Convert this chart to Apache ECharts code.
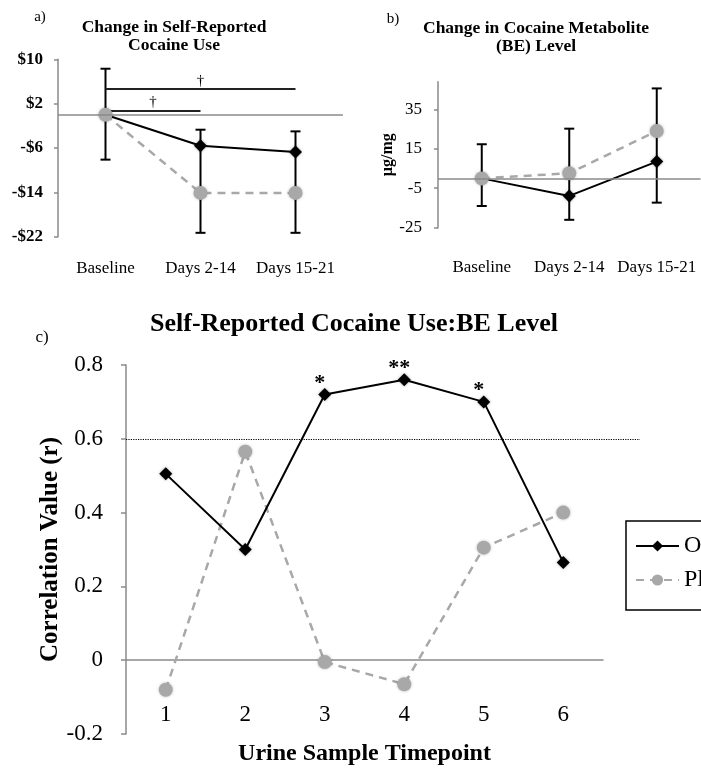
<!DOCTYPE html>
<html>
<head>
<meta charset="utf-8">
<script src="https://cdn.jsdelivr.net/npm/echarts@6/dist/echarts.min.js"></script>
<style>
  html, body { margin: 0; padding: 0; background: #fff; }
  #chart { width: 701px; height: 771px; }
</style>
</head>
<body>
<div id="chart"></div>
<script>
// ---- a) change in self-reported cocaine use ($) ----
const periods = ['Baseline', 'Days 2-14', 'Days 15-21'];
const useActive = [0, -5.6, -6.7];
const usePlacebo = [0, -14.1, -14.1];
const useErrTop = [8.3, -2.7, -3.0];
const useErrBottom = [-8.1, -21.3, -21.3];
const useTicks = [-22, -14, -6, 2, 10];
// significance brackets: [from, to, level]
const useBrackets = [['Baseline', 'Days 15-21', 4.6], ['Baseline', 'Days 2-14', 0.7]];

// ---- b) change in cocaine metabolite (BE) level, µg/mg ----
const beActive = [0, -8.9, 8.5];
const bePlacebo = [0, 2.6, 24.0];
const beErrTop = [17.3, 25.2, 45.6];
const beErrBottom = [-14.0, -21.0, -12.3];
const beTicks = [-25, -5, 15, 35];

// ---- c) correlation of self-report with BE level ----
const timepoints = ['1', '2', '3', '4', '5', '6'];
const corrActive = [0.505, 0.30, 0.72, 0.76, 0.70, 0.265];
const corrPlacebo = [-0.08, 0.565, -0.005, -0.065, 0.305, 0.40];
const corrSig = ['', '', '*', '**', '*', ''];
const corrThreshold = 0.6;

const groupNames = ['Oxytocin', 'Placebo'];

const SERIF = '"Liberation Serif", "DejaVu Serif", serif';
const AXIS_GREY = '#8a8a8a';
const MARK_GREY = '#a8a8a8';

function errorBars(gi, tops, bottoms) {
  return {
    type: 'custom', xAxisIndex: gi, yAxisIndex: gi, z: 1, silent: true,
    data: tops.map((t, i) => [i, bottoms[i], t]),
    encode: { x: 0, y: [1, 2] },
    renderItem(params, api) {
      const i = api.value(0);
      const lo = api.coord([i, api.value(1)]);
      const hi = api.coord([i, api.value(2)]);
      const w = 5;
      const style = { stroke: '#000', lineWidth: 2 };
      return {
        type: 'group', children: [
          { type: 'line', shape: { x1: lo[0], y1: lo[1], x2: hi[0], y2: hi[1] }, style },
          { type: 'line', shape: { x1: lo[0] - w, y1: lo[1], x2: lo[0] + w, y2: lo[1] }, style },
          { type: 'line', shape: { x1: hi[0] - w, y1: hi[1], x2: hi[0] + w, y2: hi[1] }, style }
        ]
      };
    }
  };
}

const zeroLine = {
  silent: true, symbol: 'none', label: { show: false },
  lineStyle: { color: AXIS_GREY, width: 1.5, type: 'solid' },
  data: [{ yAxis: 0 }]
};

function activeSeries(gi, data, extra) {
  return Object.assign({
    name: groupNames[0], type: 'line', xAxisIndex: gi, yAxisIndex: gi, z: 3,
    data, symbol: 'diamond', symbolSize: 13,
    lineStyle: { color: '#000', width: 2 },
    itemStyle: { color: '#000', shadowBlur: 3, shadowColor: 'rgba(0,0,0,0.35)' }
  }, extra || {});
}
function placeboSeries(gi, data, extra) {
  return Object.assign({
    name: groupNames[1], type: 'line', xAxisIndex: gi, yAxisIndex: gi, z: 4,
    data, symbol: 'circle', symbolSize: 14,
    lineStyle: { color: MARK_GREY, width: 2.5, type: [8, 6] },
    itemStyle: { color: MARK_GREY, shadowBlur: 3, shadowColor: 'rgba(0,0,0,0.25)' }
  }, extra || {});
}

const smallCat = (margin) => ({
  type: 'category', boundaryGap: true,
  axisLine: { show: false }, axisTick: { show: false },
  axisLabel: { margin, interval: 0, fontFamily: SERIF, fontSize: 17, color: '#000' }
});

// panel c: the horizontal axis sits on r = 0, which is 0.2 of the 1.0 range above the grid bottom
const gridC = { left: 126, top: 365, width: 477, height: 369 };
const cZeroOffset = -gridC.height * 0.2;

const option = {
  animation: false,
  backgroundColor: '#fff',
  grid: [
    { left: 58, top: 59.3, width: 285, height: 177.4, outerBoundsMode: 'none', containLabel: false },
    { left: 438, top: 81.7, width: 262.5, height: 146, outerBoundsMode: 'none', containLabel: false },
    Object.assign({ outerBoundsMode: 'none', containLabel: false }, gridC)
  ],
  xAxis: [
    Object.assign(smallCat(23), { gridIndex: 0, data: periods }),
    Object.assign(smallCat(31), { gridIndex: 1, data: periods }),
    {
      gridIndex: 2, type: 'category', data: timepoints, boundaryGap: true,
      position: 'bottom', offset: cZeroOffset,
      axisLine: { onZero: false, lineStyle: { color: AXIS_GREY, width: 1.5 } },
      axisTick: { length: 5, lineStyle: { color: AXIS_GREY, width: 1.5 } },
      axisLabel: { margin: 43, interval: 0, fontFamily: SERIF, fontSize: 23, color: '#000' },
      name: 'Urine Sample Timepoint', nameLocation: 'middle', nameGap: 82,
      nameTextStyle: { fontFamily: SERIF, fontSize: 24, fontWeight: 'bold', color: '#000' }
    }
  ],
  yAxis: [
    {
      gridIndex: 0, type: 'value', min: -22, max: 10,
      axisLine: { show: true, onZero: false, lineStyle: { color: AXIS_GREY, width: 1.5 } },
      axisTick: { show: true, length: 4, customValues: useTicks, lineStyle: { color: AXIS_GREY, width: 1.5 } },
      axisLabel: {
        customValues: useTicks, margin: 15, fontFamily: SERIF, fontSize: 17, fontWeight: 'bold', color: '#000',
        formatter: v => (v < 0 ? '-$' + (-v) : '$' + v)
      },
      splitLine: { show: false }
    },
    {
      gridIndex: 1, type: 'value', min: -25, max: 49,
      axisLine: { show: true, onZero: false, lineStyle: { color: AXIS_GREY, width: 1.5 } },
      axisTick: { show: true, length: 4, customValues: beTicks, lineStyle: { color: AXIS_GREY, width: 1.5 } },
      axisLabel: { customValues: beTicks, margin: 16, fontFamily: SERIF, fontSize: 17, color: '#000' },
      splitLine: { show: false },
      name: 'µg/mg', nameLocation: 'middle', nameGap: 42, nameRotate: 90,
      nameTextStyle: { fontFamily: SERIF, fontSize: 16, fontWeight: 'bold', color: '#000' }
    },
    {
      gridIndex: 2, type: 'value', min: -0.2, max: 0.8, interval: 0.2,
      axisLine: { show: true, onZero: false, lineStyle: { color: AXIS_GREY, width: 1.5 } },
      axisTick: { show: true, length: 5, lineStyle: { color: AXIS_GREY, width: 1.5 } },
      axisLabel: { margin: 23, fontFamily: SERIF, fontSize: 23, color: '#000' },
      splitLine: { show: false },
      name: 'Correlation Value (r)', nameLocation: 'middle', nameGap: 63, nameRotate: 90,
      nameMoveOverlap: false,
      nameTextStyle: { fontFamily: SERIF, fontSize: 25, fontWeight: 'bold', color: '#000' }
    }
  ],
  legend: {
    data: groupNames, orient: 'vertical', left: 626, top: 521,
    padding: [13, 30, 18, 9], itemGap: 10, itemWidth: 43, itemHeight: 14,
    borderColor: '#000', borderWidth: 1.5,
    textStyle: { fontFamily: SERIF, fontSize: 24, color: '#000' }
  },
  graphic: [
    { type: 'text', x: 40, y: 17, style: { text: 'a)', font: '15px ' + SERIF, fill: '#000', textAlign: 'center', textVerticalAlign: 'middle' } },
    { type: 'text', x: 174, y: 36, style: { text: 'Change in Self-Reported\nCocaine Use', font: 'bold 17.5px ' + SERIF, lineHeight: 18, fill: '#000', textAlign: 'center', textVerticalAlign: 'middle' } },
    { type: 'text', x: 393, y: 19, style: { text: 'b)', font: '15px ' + SERIF, fill: '#000', textAlign: 'center', textVerticalAlign: 'middle' } },
    { type: 'text', x: 536, y: 37.5, style: { text: 'Change in Cocaine Metabolite\n(BE) Level', font: 'bold 17.5px ' + SERIF, lineHeight: 18, fill: '#000', textAlign: 'center', textVerticalAlign: 'middle' } },
    { type: 'text', x: 42, y: 338, style: { text: 'c)', font: '17px ' + SERIF, fill: '#000', textAlign: 'center', textVerticalAlign: 'middle' } },
    { type: 'text', x: 354, y: 324, style: { text: 'Self-Reported Cocaine Use:BE Level', font: 'bold 26px ' + SERIF, fill: '#000', textAlign: 'center', textVerticalAlign: 'middle' } }
  ],
  series: [
    // a
    errorBars(0, useErrTop, useErrBottom),
    activeSeries(0, useActive, {
      markLine: {
        silent: true, symbol: 'none', z: 2,
        lineStyle: { color: '#222', width: 2, type: 'solid' },
        label: { show: true, position: 'middle', formatter: '†', fontFamily: SERIF, fontSize: 15, color: '#000', distance: 1 },
        data: useBrackets.map(b => [{ coord: [b[0], b[2]] }, { coord: [b[1], b[2]] }])
      }
    }),
    placeboSeries(0, usePlacebo, { markLine: zeroLine }),
    // b
    errorBars(1, beErrTop, beErrBottom),
    activeSeries(1, beActive),
    placeboSeries(1, bePlacebo, { markLine: zeroLine }),
    // c
    placeboSeries(2, corrPlacebo, { z: 3 }),
    activeSeries(2, corrActive.map((v, i) => ({
      value: v,
      label: { show: corrSig[i] !== '', formatter: corrSig[i], position: 'top', distance: -6, offset: [-5, 0], fontFamily: SERIF, fontSize: 22, fontWeight: 'bold', color: '#000' }
    })), {
      z: 4,
      markLine: {
        silent: true, symbol: 'none',
        label: { show: false },
        lineStyle: { color: '#000', width: 1.2, type: 'dotted' },
        data: [[{ yAxis: corrThreshold, x: 126 }, { yAxis: corrThreshold, x: 640 }]]
      }
    })
  ]
};

const chart = echarts.init(document.getElementById('chart'), null, { renderer: 'canvas' });
chart.setOption(option);
</script>
</body>
</html>
